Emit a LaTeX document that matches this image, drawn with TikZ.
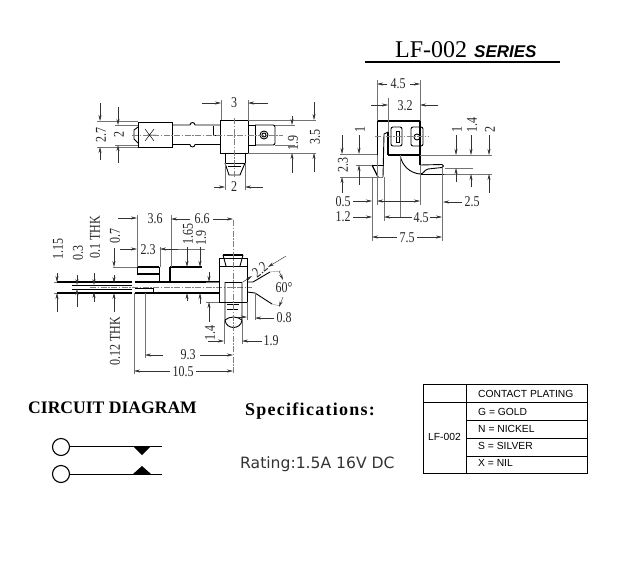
\documentclass[tikz,border=0pt]{standalone}
\usepackage{fontspec}
\usetikzlibrary{arrows.meta}
\setmainfont{Liberation Serif}
\newfontfamily\dimfont[FakeStretch=0.8]{Liberation Serif}
\newfontfamily\tablefont{Liberation Sans}
\newfontfamily\seriesfont{Liberation Sans}
\newfontfamily\specfont[LetterSpace=7]{Liberation Serif}
\newfontfamily\ratingfont{DejaVu Sans}
\tikzset{
  part/.style={line width=0.9pt,black},
  heavy/.style={line width=1.2pt,black},
  extline/.style={line width=0.35pt,black!55},
  centerline/.style={line width=0.4pt,black!50,dash pattern=on 6pt off 1.5pt on 1.5pt off 1.5pt},
  dimarrow/.style={line width=0.45pt,black!80,-{Stealth[length=6pt,width=3pt]}},
  dimtext/.style={inner sep=0pt,font=\dimfont\fontsize{15}{15}\selectfont,text=black!85},
  celltext/.style={inner sep=0pt,anchor=west,font=\tablefont\fontsize{10.3}{11}\selectfont}
}
\begin{document}
\begin{tikzpicture}[x=1pt,y=-1pt]
  \useasboundingbox (0,0) rectangle (617,567);
  % Title
  \node[anchor=base west,inner sep=0pt,font=\fontsize{24}{24}\selectfont] (titlename) at (395,58) {LF-002};
  \node[anchor=base west,inner sep=0pt,font=\seriesfont\bfseries\itshape\fontsize{17}{17}\selectfont] (titleseries) at (474,58) {SERIES};
  \draw[line width=1.6pt] (365,62) -- (560,62);

  % Top view: outline
  \draw[part] (138,122) rectangle (172,147);
  \draw[part] (138,127) -- (134,130) -- (134,139) -- (138,143);
  \draw[part] (172,125) -- (190,125) arc[start angle=180,end angle=360,radius=2.5] -- (220,125);
  \draw[part] (172,144.5) -- (190,144.5) arc[start angle=180,end angle=0,radius=2.5] -- (220,144.5);
  \draw[part] (213,126) -- (213,135) -- (220,135);
  \draw[part] (220,120) rectangle (248,153);
  \draw[part] (225,153) -- (225,163) -- (245,163) -- (245,153);
  \draw[part] (225,163) -- (229,175) -- (240,175) -- (245,163);
  \draw[part] (228,166) -- (241,166);
  \draw[part] (248,125) -- (255,125) -- (255,145) -- (248,145);
  \draw[part,rounded corners=2pt] (255,125) -- (275,125) -- (275,145) -- (255,145);
  \draw[part] (264,135) circle (4);
  \draw[part] (264,135) circle (2);
  \draw[line width=0.5pt] (145,129) -- (154,141) (154,129) -- (145,141) (147,135) -- (156,135);
  \draw[centerline] (132,135) -- (283,135);
  \draw[centerline] (234,118) -- (234,178);
  % Top view: dimensions
  \draw[extline] (221,100) -- (221,120) (248,100) -- (248,120);
  \draw[dimarrow] (202,103) -- (221,103);
  \draw[dimarrow] (268,103) -- (248,103);
  \node[dimtext] (topwidth) at (234,103) {3};
  \draw[extline] (97,121) -- (138,121) (97,147) -- (138,147);
  \draw[extline] (115,125) -- (138,125) (115,145) -- (138,145);
  \draw[dimarrow] (100,103) -- (100,121);
  \draw[dimarrow] (100,160) -- (100,147);
  \node[dimtext,rotate=90] (topferrule) at (101,135) {2.7};
  \draw[dimarrow] (118,107) -- (118,125);
  \draw[dimarrow] (118,163) -- (118,145);
  \node[dimtext,rotate=90] (topshaft) at (119,134) {2};
  \draw[extline] (248,120) -- (316,120) (248,153) -- (316,153);
  \draw[extline] (275,125) -- (295,125) (275,145) -- (295,145);
  \draw[dimarrow] (292,116) -- (292,125);
  \draw[dimarrow] (292,173) -- (292,153);
  \node[dimtext,rotate=90] (topterm) at (293,143) {1.9};
  \draw[dimarrow] (314,102) -- (314,120);
  \draw[dimarrow] (314,172) -- (314,153);
  \node[dimtext,rotate=90] (topbody) at (315,137) {3.5};
  \draw[extline] (225,163) -- (225,190) (245,163) -- (245,190);
  \draw[dimarrow] (214,187) -- (225,187);
  \draw[dimarrow] (263,187) -- (245,187);
  \node[dimtext] (toptab) at (234,187) {2};

  % Side view: outline
  \draw[heavy] (377,121) -- (420,121) -- (420,165);
  \draw[part] (377,121) -- (377,155);
  \draw[heavy] (388,155) -- (420,155);
  \draw[heavy] (388,132) -- (388,155);
  \draw[part] (388,132) -- (384,134) -- (383,177);
  \draw[part,rounded corners=2pt] (391,127) rectangle (402,146);
  \draw[part,rounded corners=2pt] (411,127) rectangle (423,146);
  \draw[part] (396,131) rectangle (399,142);
  \draw[part] (417,137) circle (3);
  \draw[part] (372,165) -- (384,165);
  \draw[part] (377,177) -- (383,177);
  \draw[heavy] (372,165) -- (378,177);
  \draw[part] (400,155) .. controls (402,166) and (410,173) .. (420,174);
  \draw[part] (420,165) -- (442,164.5);
  \draw[part] (420,174) .. controls (424,174) and (424,170) .. (428,169) -- (442,167.5);
  \draw[part] (442,164.5) arc[start angle=-90,end angle=90,radius=1.5];
  \draw[part] (420,174) -- (444,174);
  \draw[centerline] (375,136) -- (428,136);
  % Side view: dimensions
  \draw[extline] (377,80) -- (377,121) (420,80) -- (420,121);
  \draw[extline] (388,98) -- (388,132);
  \draw[dimarrow] (387,84) -- (377,84);
  \draw[dimarrow] (410,84) -- (420,84);
  \node[dimtext] (sidewidth) at (398,84) {4.5};
  \draw[dimarrow] (371,105) -- (388,105);
  \draw[dimarrow] (438,105) -- (420,105);
  \node[dimtext] (sideinner) at (405,106) {3.2};
  \draw[extline] (340,154) -- (377,154) (356,165) -- (372,165) (340,177) -- (383,177);
  \draw[dimarrow] (359,135) -- (359,154);
  \draw[dimarrow] (359,185) -- (359,165);
  \node[dimtext,rotate=90] (sideone) at (360,129) {1};
  \draw[dimarrow] (342,135) -- (342,154);
  \draw[dimarrow] (342,193) -- (342,177);
  \node[dimtext,rotate=90] (sideheight) at (343,165) {2.3};
  \draw[extline] (420,155) -- (492,155) (445,168) -- (473,168) (444,174) -- (492,174);
  \draw[dimarrow] (456,135) -- (456,155);
  \draw[dimarrow] (456,182) -- (456,168);
  \node[dimtext,rotate=90] (rightone) at (457,129) {1};
  \draw[dimarrow] (471,135) -- (471,155);
  \draw[dimarrow] (471,187) -- (471,174);
  \node[dimtext,rotate=90] (rightlead) at (472,125) {1.4};
  \draw[dimarrow] (489,135) -- (489,155);
  \draw[dimarrow] (489,193) -- (489,174);
  \node[dimtext,rotate=90] (righttwo) at (490,129) {2};
  \draw[extline] (377,155) -- (377,205) (420,165) -- (420,205);
  \draw[extline] (400,155) -- (400,218) (384,177) -- (384,221);
  \draw[extline] (372,177) -- (372,241) (442,168) -- (442,241);
  \node[dimtext] (dimhalf) at (343,202) {0.5};
  \draw[dimarrow] (353,201) -- (372,201);
  \draw[dimarrow] (385,201) -- (377,201);
  \draw[dimarrow] (384,201) -- (420,201);
  \node[dimtext] (dimtwelve) at (343,217) {1.2};
  \draw[dimarrow] (353,217) -- (372,217);
  \draw[dimarrow] (400,217) -- (384,217);
  \draw[line width=0.45pt,black!80] (400,217) -- (412,217);
  \node[dimtext] (sidespan) at (421,218) {4.5};
  \draw[dimarrow] (430,217) -- (442,217);
  \node[dimtext] (sidelead) at (472,202) {2.5};
  \draw[dimarrow] (462,202) -- (443,202);
  \node[dimtext] (sidetotal) at (407,238) {7.5};
  \draw[dimarrow] (397,237) -- (372,237);
  \draw[dimarrow] (417,237) -- (442,237);

  % Bottom view: outline
  \draw[heavy] (137,267) -- (159,267) (159,274) -- (137,274);
  \draw[part] (137,267) -- (137,274) (159,267) -- (159,283) (169,267) -- (169,283);
  \draw[heavy] (170,267) -- (202,267);
  \draw[part] (170,267) -- (170,282);
  \draw[heavy] (57,282) -- (132,282) (135,282) -- (219,282);
  \draw[heavy] (57,293) -- (132,293) (135,293) -- (219,293);
  \draw[part] (72,285) -- (132,285) (72,289) -- (132,289);
  \draw[part] (135,288) -- (153,288) -- (153,293);
  \draw[centerline] (90,287) -- (252,287);
  \draw[part] (219,258) rectangle (247,266);
  \draw[part] (219,266) -- (219,302) -- (247,302) -- (247,266);
  \draw[heavy] (223,255) -- (243,255);
  \draw[part] (223,255) -- (226,266) (243,255) -- (240,266);
  \draw[part] (225,282) -- (242,282);
  \draw[part] (225,282) -- (225,320) .. controls (226,330) and (241,330) .. (242,320) -- (242,282);
  \draw[part] (225,320) .. controls (230,316) and (237,316) .. (242,320);
  \draw[part] (227,304) -- (239,304) (227,309) -- (238,309);
  \draw[part] (247,282) -- (253,282) -- (270,272);
  \draw[part] (247,292) -- (255,293) -- (272,304);
  \draw[centerline] (233,220) -- (233,374);
  % Bottom view: dimensions
  \draw[extline] (137,215) -- (137,267) (171,215) -- (171,267) (160,247) -- (160,267);
  \draw[dimarrow] (118,218) -- (137,218);
  \draw[dimarrow] (190,219) -- (171,219);
  \node[dimtext] (lenthree) at (155,219) {3.6};
  \node[dimtext] (lensix) at (202,219) {6.6};
  \draw[dimarrow] (213,219) -- (233,219);
  \draw[dimarrow] (120,249) -- (137,249);
  \draw[dimarrow] (178,249) -- (160,249);
  \node[dimtext] (lentwo) at (148,250) {2.3};
  \draw[extline] (178,249) -- (205,249);
  \draw[dimarrow] (187,247) -- (187,267);
  \draw[dimarrow] (187,301) -- (187,293);
  \node[dimtext,rotate=90] (gapone) at (188,234) {1.65};
  \draw[dimarrow] (200,247) -- (200,267);
  \draw[dimarrow] (200,304) -- (200,293);
  \node[dimtext,rotate=90] (gaptwo) at (201,238) {1.9};
  \draw[extline] (54,282) -- (57,282) (54,293) -- (57,293) (113,267) -- (137,267);
  \draw[dimarrow] (57,273) -- (57,282);
  \draw[dimarrow] (57,312) -- (57,293);
  \node[dimtext,rotate=90] (levelone) at (58,249) {1.15};
  \draw[dimarrow] (77,275) -- (77,285);
  \draw[dimarrow] (77,307) -- (77,289);
  \node[dimtext,rotate=90] (leveltwo) at (78,253) {0.3};
  \draw[dimarrow] (94,273) -- (94,285);
  \draw[dimarrow] (94,302) -- (94,292);
  \node[dimtext,rotate=90] (thinthk) at (95,237) {0.1 THK};
  \draw[dimarrow] (114,248) -- (114,267);
  \draw[dimarrow] (114,275) -- (114,283);
  \node[dimtext,rotate=90] (levelthree) at (115,236) {0.7};
  \draw[dimarrow] (114,312) -- (114,293);
  \node[dimtext,rotate=90] (thickthk) at (115,341) {0.12 THK};
  \draw[extline] (145,293) -- (145,358) (134,293) -- (134,374);
  \draw[dimarrow] (163,355) -- (145,355);
  \draw[dimarrow] (200,355) -- (233,355);
  \node[dimtext] (lenbody) at (188,355) {9.3};
  \draw[dimarrow] (170,371) -- (134,371);
  \draw[dimarrow] (196,371) -- (233,371);
  \node[dimtext] (lentotal) at (183,372) {10.5};
  \draw[extline] (206,302) -- (219,302) (206,282) -- (219,282);
  \draw[dimarrow] (209,272) -- (209,282);
  \draw[dimarrow] (209,322) -- (209,302);
  \node[dimtext,rotate=90] (capone) at (210,333) {1.4};
  \draw[extline] (224,320) -- (224,344) (242,320) -- (242,344) (247,302) -- (247,320) (255,293) -- (255,320);
  \draw[dimarrow] (208,341) -- (224,341);
  \draw[dimarrow] (262,341) -- (242,341);
  \node[dimtext] (capwidth) at (271,341) {1.9};
  \draw[dimarrow] (238,317) -- (247,317);
  \draw[dimarrow] (274,318) -- (255,318);
  \node[dimtext] (leadgap) at (284,318) {0.8};
  \draw[extline] (270,272) -- (281,271) (272,304) -- (280,306);
  \draw[dimarrow] (286,256) -- (268,267);
  \draw[dimarrow] (243,282) -- (252,276);
  \node[dimtext,rotate=38] (leadlen) at (260,270) {2.2};
  \draw[dimarrow] (279,271) -- (283,280);
  \draw[dimarrow] (283,297) -- (279,307);
  \node[dimtext] (leadangle) at (284,288) {60°};

  % Circuit
  \node[anchor=base west,inner sep=0pt,font=\bfseries\fontsize{17.6}{18}\selectfont] (circuittitle) at (28,413) {CIRCUIT DIAGRAM};
  \node[draw,circle,line width=1.1pt,minimum size=17pt,inner sep=0pt] (termone) at (61,447) {};
  \node[draw,circle,line width=1.1pt,minimum size=17pt,inner sep=0pt] (termtwo) at (61,474) {};
  \coordinate (endone) at (162,446);
  \coordinate (endtwo) at (162,474);
  \draw[line width=1pt] (termone.east |- endone) -- (endone);
  \draw[line width=1pt] (termtwo.east |- endtwo) -- (endtwo);
  \fill (133,446) -- (151,446) -- (142,455) -- cycle;
  \fill (133,474) -- (151,474) -- (142,466) -- cycle;

  % Specifications
  \node[anchor=base west,inner sep=0pt,font=\specfont\bfseries\fontsize{18}{18}\selectfont] (spectitle) at (245,415) {Specifications:};
  \node[anchor=base west,inner sep=0pt,font=\ratingfont\fontsize{15.6}{16}\selectfont,text=black!80] (rating) at (240,468) {Rating:1.5A 16V DC};

  % Table
  \draw[line width=0.9pt] (423,384) rectangle (587,473);
  \draw[line width=0.9pt] (466,384) -- (466,473);
  \draw[line width=0.9pt] (423,402) -- (587,402);
  \draw[line width=0.9pt] (466,420) -- (587,420) (466,438) -- (587,438) (466,456) -- (587,456);
  \node[celltext] (platehead) at (478,394) {CONTACT PLATING};
  \node[celltext] (plategold) at (478,412) {G = GOLD};
  \node[celltext] (platenickel) at (478,429) {N = NICKEL};
  \node[celltext] (platesilver) at (478,446) {S = SILVER};
  \node[celltext] (platenil) at (478,463) {X = NIL};
  \node[celltext] (platemodel) at (428,437) {LF-002};
\end{tikzpicture}
\end{document}
